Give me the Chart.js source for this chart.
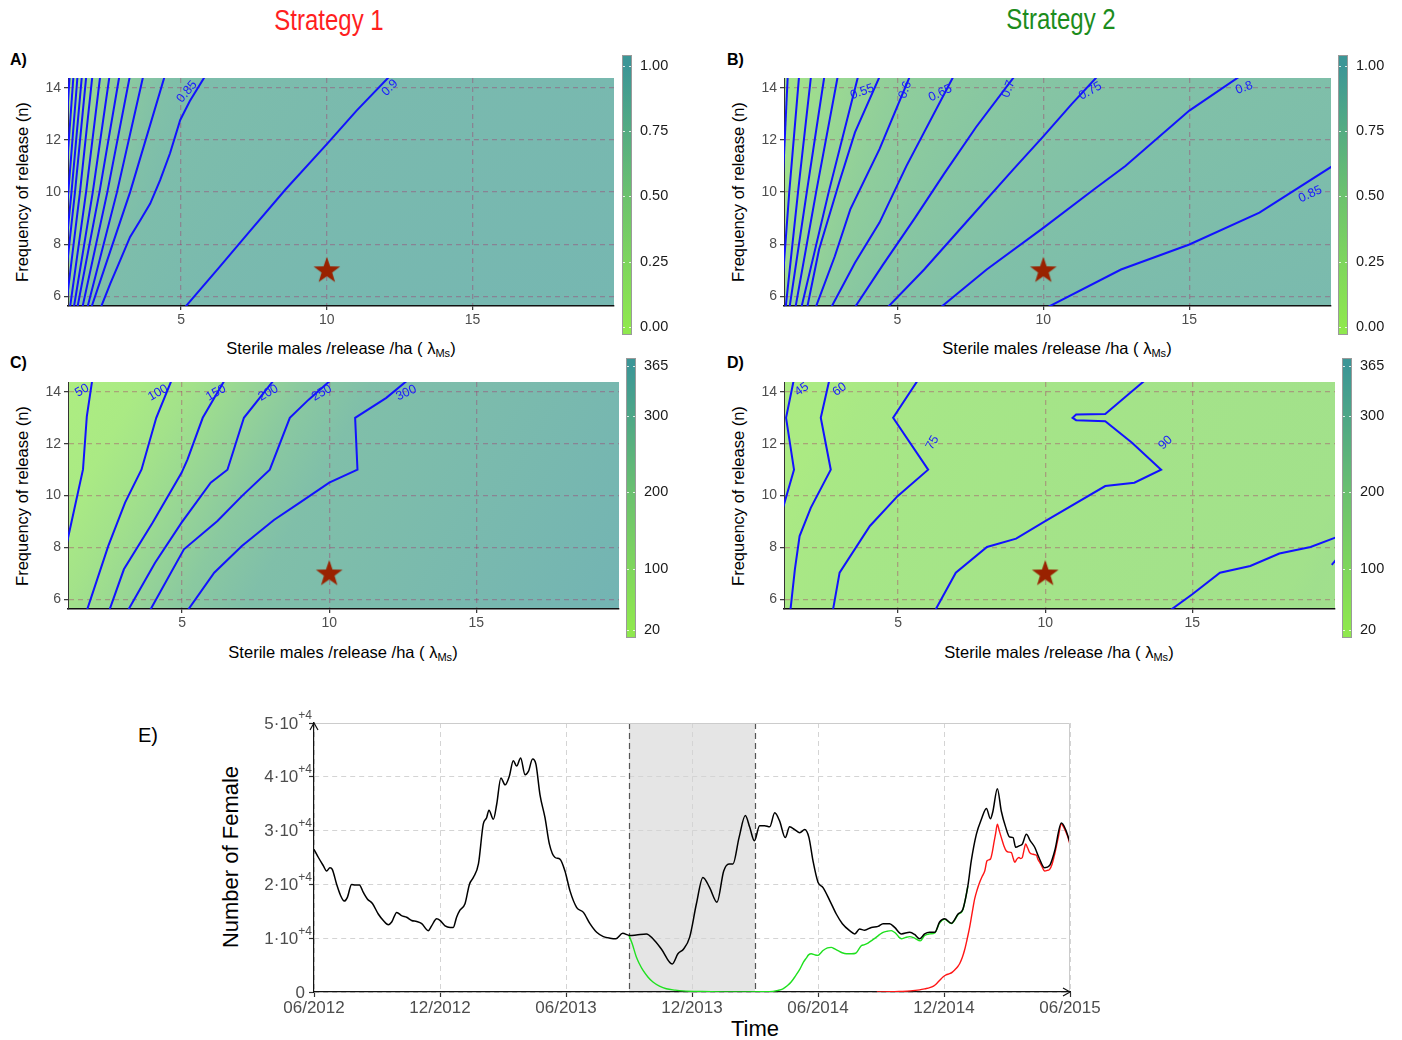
<!DOCTYPE html>
<html>
<head>
<meta charset="utf-8">
<title>SIT release strategies</title>
<script src="https://cdn.jsdelivr.net/npm/chart.js@4.4.1/dist/chart.umd.min.js"></script>
<style>
  html, body { margin: 0; padding: 0; background: #fff; }
  #fig { position: relative; width: 1402px; height: 1040px; overflow: hidden; font-family: "Liberation Sans", Arial, sans-serif; }
  #fig canvas { position: absolute; }
  .lbl { position: absolute; white-space: nowrap; color: #000; line-height: 1; }
  .c { transform: translate(-50%, -50%); }
  .rot { transform: translate(-50%, -50%) rotate(-90deg); }
  .title { font-size: 30px; transform: translate(-50%, 0) scaleX(0.8); }
  .tag { font-size: 16px; font-weight: bold; }
  .axt { font-size: 16.5px; }
  .axt sub { font-size: 11px; vertical-align: -3px; }
  .big { font-size: 22px; }
</style>
</head>
<body>
<div id="fig">
  <div class="lbl title" style="left:329px; top:5px; color:#ff1f1f;">Strategy 1</div>
  <div class="lbl title" style="left:1061px; top:4px; color:#1c8c1c;">Strategy 2</div>

  <div class="lbl tag" style="left:10px; top:52px;">A)</div>
  <div class="lbl tag" style="left:727px; top:52px;">B)</div>
  <div class="lbl tag" style="left:10px; top:355px;">C)</div>
  <div class="lbl tag" style="left:727px; top:355px;">D)</div>

  <div class="lbl axt rot" style="left:22px; top:192px;">Frequency of release (n)</div>
  <div class="lbl axt rot" style="left:738px; top:192px;">Frequency of release (n)</div>
  <div class="lbl axt rot" style="left:22px; top:496px;">Frequency of release (n)</div>
  <div class="lbl axt rot" style="left:738px; top:496px;">Frequency of release (n)</div>

  <div class="lbl axt c" style="left:341px; top:349px;">Sterile males /release /ha ( λ<sub>Ms</sub>)</div>
  <div class="lbl axt c" style="left:1057px; top:349px;">Sterile males /release /ha ( λ<sub>Ms</sub>)</div>
  <div class="lbl axt c" style="left:343px; top:653px;">Sterile males /release /ha ( λ<sub>Ms</sub>)</div>
  <div class="lbl axt c" style="left:1059px; top:653px;">Sterile males /release /ha ( λ<sub>Ms</sub>)</div>

  <div class="lbl big" style="left:138px; top:725px; font-size:20px;">E)</div>
  <div class="lbl big rot" style="left:231px; top:857px;">Number of Female</div>
  <div class="lbl big c" style="left:755px; top:1029px;">Time</div>

  <canvas id="pA" width="620" height="270" style="left:0px; top:70px;"></canvas>
  <canvas id="pB" width="621" height="270" style="left:716px; top:70px;"></canvas>
  <canvas id="pC" width="625" height="270" style="left:0px; top:374px;"></canvas>
  <canvas id="pD" width="625" height="270" style="left:716px; top:374px;"></canvas>
  <canvas id="cbA" width="70" height="290" style="left:618px; top:50px;"></canvas>
  <canvas id="cbB" width="70" height="290" style="left:1334px; top:50px;"></canvas>
  <canvas id="cbC" width="70" height="290" style="left:622px; top:353px;"></canvas>
  <canvas id="cbD" width="70" height="290" style="left:1338px; top:353px;"></canvas>
  <canvas id="pE" width="900" height="320" style="left:230px; top:710px;"></canvas>
</div>

<script>
// ---- data: contour panels (x = sterile males/release/ha, y = releases) ----
const panelXTicks = [5, 10, 15];
const panelYTicks = [6, 8, 10, 12, 14];
const starPoint = [{x: 10, y: 7}];

// A) strategy 1, efficacy
const levelsA = [0.25, 0.3, 0.35, 0.4, 0.45, 0.5, 0.55, 0.6, 0.65, 0.7, 0.75, 0.8, 0.85, 0.9];
const contoursA = [
  [[0.62, 5.5], [0.92, 10], [1.18, 14.5]],
  [[0.69, 5.5], [1.02, 10], [1.31, 14.5]],
  [[0.76, 5.5], [1.13, 10], [1.45, 14.5]],
  [[0.84, 5.5], [1.24, 10], [1.60, 14.5]],
  [[0.92, 5.5], [1.36, 10], [1.75, 14.5]],
  [[1.04, 5.5], [1.53, 10], [1.96, 14.5]],
  [[1.18, 5.5], [1.74, 10], [2.23, 14.5]],
  [[1.31, 5.5], [1.97, 10], [2.55, 14.5]],
  [[1.43, 5.5], [2.20, 10], [2.89, 14.5]],
  [[1.60, 5.5], [2.47, 10], [3.25, 14.5]],
  [[1.77, 5.5], [2.80, 10], [3.71, 14.5]],
  [[1.90, 5.5], [3.25, 10], [4.45, 14.5]],
  [[2.22, 5.5], [2.57, 6.49], [2.91, 7.38], [3.25, 8.28], [3.6, 8.92], [3.94, 9.56], [4.28, 10.46], [4.62, 11.49], [4.97, 12.77], [5.3, 13.5], [5.85, 14.5]],
  [[5.07, 5.5], [6.3, 7.1], [7.36, 8.5], [8.58, 10.1], [10.0, 11.84], [11.02, 13.13], [12.2, 14.5]]
];
const labelsA = [[0.85, 5.2, 13.85], [0.9, 12.16, 14.0]];
const cornerValuesA = [0.22, 0.95];

// B) strategy 2, efficacy
const levelsB = [0.25, 0.3, 0.35, 0.4, 0.45, 0.5, 0.55, 0.6, 0.65, 0.7, 0.75, 0.8, 0.85];
const contoursB = [
  [[0.9, 5.5], [1.06, 10], [1.25, 14.5]],
  [[1.0, 5.5], [1.3, 10], [1.64, 14.5]],
  [[1.17, 5.5], [1.6, 10], [2.05, 14.5]],
  [[1.3, 5.5], [1.9, 10], [2.51, 14.5]],
  [[1.5, 5.5], [2.22, 10], [2.97, 14.5]],
  [[1.7, 5.5], [2.65, 10], [3.67, 14.5]],
  [[1.9, 5.5], [2.32, 7.8], [3.01, 10.37], [3.55, 12.29], [4.42, 14.5]],
  [[2.18, 5.5], [2.86, 7.54], [3.39, 9.34], [4.39, 11.65], [5.45, 14.5]],
  [[2.7, 5.5], [3.55, 7.29], [4.39, 8.83], [5.31, 11.0], [6.95, 14.5]],
  [[3.5, 5.5], [4.5, 7.2], [5.6, 9.0], [6.6, 10.7], [7.7, 12.5], [9.05, 14.5]],
  [[4.6, 5.5], [5.92, 7.03], [7.45, 8.96], [8.98, 10.88], [10.0, 12.14], [10.97, 13.38], [11.9, 14.5]],
  [[6.4, 5.5], [8.06, 7.03], [10.0, 8.63], [11.74, 10.11], [12.81, 11.0], [15.0, 13.13], [16.8, 14.5]],
  [[10.0, 5.5], [12.66, 7.03], [15.0, 7.99], [17.4, 9.21], [19.9, 11.0]]
];
const labelsB = [[0.55, 3.8, 13.85], [0.6, 5.27, 13.92], [0.65, 6.47, 13.8], [0.7, 8.8, 13.96], [0.75, 11.61, 13.88], [0.8, 16.88, 14.0], [0.85, 19.14, 9.92]];
const cornerValuesB = [0.2, 0.9];

// C) strategy 1, days of protection
const levelsC = [50, 100, 150, 200, 250, 300];
const contoursC = [
  [[1.05, 8.0], [1.17, 8.63], [1.63, 11.01], [1.76, 13.06], [1.95, 14.5]],
  [[1.74, 5.5], [2.49, 8.06], [3.06, 9.73], [3.62, 11.01], [4.12, 13.0], [4.66, 14.5]],
  [[2.5, 5.5], [3.02, 7.16], [4.0, 8.96], [4.98, 10.88], [5.18, 11.39], [5.7, 13.0], [6.47, 14.5]],
  [[3.12, 5.5], [4.08, 7.41], [4.98, 8.96], [5.97, 10.5], [6.54, 11.0], [7.1, 13.0], [8.15, 14.5]],
  [[3.87, 5.5], [5.06, 7.93], [6.2, 9.02], [7.03, 9.98], [7.98, 11.0], [8.66, 13.0], [9.3, 13.7], [10.1, 14.5]],
  [[5.14, 5.5], [6.09, 7.03], [7.03, 8.06], [8.12, 9.06], [9.0, 9.73], [10.0, 10.5], [10.96, 11.0], [10.88, 13.0], [11.94, 13.77], [12.72, 14.5]]
];
const labelsC = [[50, 1.6, 14.05], [100, 4.18, 13.96], [150, 6.15, 13.96], [200, 7.93, 13.96], [250, 9.75, 13.96], [300, 12.62, 13.96]];
const cornerValuesC = [30, 362];

// D) strategy 2, days of protection
const levelsD = [45, 60, 75, 90, 105, 120];
const contoursD = [
  [[1.46, 14.5], [1.19, 13.0], [1.46, 11.0], [1.13, 9.7], [1.05, 9.4]],
  [[2.67, 14.5], [2.37, 13.0], [2.71, 11.0], [2.03, 9.53], [1.65, 8.44], [1.49, 7.16], [1.33, 5.5]],
  [[5.7, 14.5], [4.83, 13.0], [6.02, 11.0], [4.98, 9.98], [4.04, 8.83], [3.01, 7.03], [2.77, 5.5]],
  [[13.45, 14.5], [12.88, 13.96], [12.04, 13.15], [11.05, 13.13], [10.93, 13.0], [11.05, 12.91], [12.04, 12.87], [12.95, 12.04], [13.94, 11.0], [13.03, 10.5], [12.04, 10.37], [10.0, 9.02], [9.01, 8.34], [8.02, 8.02], [6.96, 7.03], [6.22, 5.5]],
  [[14.15, 5.5], [15.0, 6.2], [15.94, 7.03], [16.97, 7.29], [17.96, 7.77], [19.02, 8.02], [19.9, 8.4]],
  [[19.74, 7.33], [19.9, 7.55]]
];
const labelsD = [[45, 1.72, 14.09], [60, 3.01, 14.09], [75, 6.17, 12.04], [90, 14.09, 12.04]];
const cornerValuesD = [40, 110];

const colorbarTicksAB = [0, 0.25, 0.5, 0.75, 1];
const colorbarTicksCD = [20, 100, 200, 300, 365];

// ---- data: panel E (months since 06/2012, females in units of 10^4) ----
const timeTicks = [0, 6, 12, 18, 24, 30, 36];
const timeTickLabels = ['06/2012', '12/2012', '06/2013', '12/2013', '06/2014', '12/2014', '06/2015'];
const femaleTicks = [0, 1, 2, 3, 4, 5];
// base text and superscript of each tick label
const femaleTickLabels = [['0', ''], ['1\u00B710', '+4'], ['2\u00B710', '+4'], ['3\u00B710', '+4'], ['4\u00B710', '+4'], ['5\u00B710', '+4']];
const releaseWindow = [15, 21];

const femalesNoRelease = [
  [0, 2.65], [0.21, 2.5], [0.44, 2.35], [0.6, 2.25], [0.76, 2.31], [0.87, 2.28], [1.08, 2.0], [1.27, 1.79],
  [1.44, 1.69], [1.59, 1.76], [1.79, 2.0], [1.95, 1.99], [2.16, 1.99], [2.35, 1.85], [2.54, 1.73], [2.79, 1.64],
  [3.06, 1.45], [3.3, 1.33], [3.54, 1.25], [3.7, 1.3], [3.94, 1.48], [4.17, 1.42], [4.41, 1.39], [4.65, 1.33],
  [4.89, 1.31], [5.13, 1.27], [5.44, 1.14], [5.6, 1.23], [5.84, 1.36], [6.0, 1.33], [6.24, 1.23], [6.48, 1.2],
  [6.63, 1.2], [6.79, 1.39], [6.95, 1.52], [7.19, 1.64], [7.4, 2.0], [7.59, 2.13], [7.83, 2.38], [8.06, 3.12],
  [8.22, 3.24], [8.33, 3.38], [8.54, 3.21], [8.7, 3.49], [8.9, 3.98], [9.1, 3.85], [9.3, 4.01], [9.49, 4.3],
  [9.65, 4.2], [9.84, 4.35], [10.05, 4.04], [10.21, 4.1], [10.41, 4.33], [10.57, 4.23], [10.76, 3.67], [11.0, 3.24],
  [11.21, 2.75], [11.48, 2.5], [11.71, 2.47], [11.95, 2.25], [12.19, 1.88], [12.51, 1.57], [12.83, 1.48], [13.14, 1.27],
  [13.46, 1.11], [13.78, 1.03], [14.1, 1.0], [14.38, 0.99], [14.7, 1.09], [15.03, 1.05], [15.35, 1.06], [15.83, 1.08],
  [16.14, 0.99], [16.54, 0.8], [17.06, 0.52], [17.33, 0.71], [17.6, 0.8], [17.89, 1.02], [18.21, 1.64], [18.52, 2.13],
  [18.84, 1.94], [19.19, 1.67], [19.51, 2.25], [19.76, 2.38], [19.95, 2.38], [20.24, 2.87], [20.54, 3.28], [20.75, 3.06],
  [20.97, 2.81], [21.22, 3.09], [21.46, 3.09], [21.7, 3.07], [21.94, 3.33], [22.17, 3.18], [22.44, 2.87], [22.65, 3.07],
  [22.89, 3.02], [23.13, 2.96], [23.37, 3.02], [23.57, 2.87], [23.76, 2.44], [24.0, 2.04], [24.24, 1.94], [24.56, 1.7],
  [24.87, 1.45], [25.16, 1.27], [25.51, 1.14], [25.75, 1.08], [25.98, 1.17], [26.22, 1.15], [26.54, 1.2], [26.86, 1.22],
  [27.1, 1.27], [27.41, 1.27], [27.65, 1.2], [27.97, 1.08], [28.37, 1.11], [28.6, 1.07], [28.84, 0.99], [29.08, 1.08],
  [29.32, 1.11], [29.56, 1.11], [29.79, 1.3], [30.03, 1.36], [30.35, 1.28], [30.67, 1.45], [30.9, 1.54], [31.14, 1.98],
  [31.3, 2.44], [31.54, 2.93], [31.78, 3.21], [32.02, 3.41], [32.21, 3.22], [32.33, 3.36], [32.54, 3.78], [32.73, 3.36],
  [32.94, 3.06], [33.13, 2.88], [33.29, 2.87], [33.41, 2.69], [33.6, 2.72], [33.73, 2.75], [33.92, 2.93], [34.11, 2.81],
  [34.32, 2.69], [34.52, 2.5], [34.79, 2.31], [35.03, 2.35], [35.27, 2.62], [35.59, 3.14], [35.79, 3.02], [36.0, 2.78]
];

const femalesStrategy1 = [
  [15.0, 1.05], [15.15, 0.9], [15.35, 0.65], [15.5, 0.52], [15.67, 0.4], [15.9, 0.28], [16.14, 0.185], [16.45, 0.11],
  [16.78, 0.06], [17.2, 0.035], [17.57, 0.02], [18.5, 0.008], [19.5, 0.003], [20.5, 0.002], [21.3, 0.005], [21.86, 0.012],
  [22.1, 0.03], [22.33, 0.06], [22.55, 0.12], [22.73, 0.19], [22.93, 0.3], [23.13, 0.42], [23.3, 0.55], [23.44, 0.63],
  [23.55, 0.69], [23.68, 0.71], [23.85, 0.69], [24.0, 0.68], [24.12, 0.72], [24.24, 0.77], [24.45, 0.82], [24.63, 0.83],
  [24.8, 0.8], [24.95, 0.77], [25.15, 0.73], [25.35, 0.71], [25.6, 0.71], [25.79, 0.72], [25.95, 0.8], [26.06, 0.86],
  [26.22, 0.88], [26.38, 0.91], [26.6, 0.97], [26.78, 1.02], [26.95, 1.07], [27.1, 1.11], [27.3, 1.13], [27.49, 1.14],
  [27.6, 1.12], [27.73, 1.08], [27.85, 1.02], [27.97, 0.99], [28.15, 1.01], [28.37, 1.03], [28.6, 1.0], [28.87, 0.95],
  [29.08, 1.05], [29.32, 1.08], [29.56, 1.1], [29.79, 1.28], [30.03, 1.35], [30.35, 1.27], [30.67, 1.44], [30.9, 1.53],
  [31.14, 1.97]
];

const femalesStrategy2 = [
  [26.8, 0], [27.5, 0.004], [27.89, 0.01], [28.4, 0.02], [28.84, 0.04], [29.1, 0.06], [29.32, 0.08], [29.5, 0.11],
  [29.63, 0.15], [29.8, 0.22], [29.95, 0.28], [30.1, 0.32], [30.27, 0.34], [30.4, 0.37], [30.51, 0.41], [30.65, 0.47],
  [30.75, 0.53], [30.87, 0.64], [30.98, 0.78], [31.1, 0.98], [31.22, 1.2], [31.34, 1.47], [31.46, 1.73], [31.58, 1.9],
  [31.7, 2.04], [31.82, 2.15], [31.94, 2.25], [32.05, 2.44], [32.21, 2.47], [32.3, 2.6], [32.38, 2.78], [32.46, 2.95],
  [32.54, 3.12], [32.63, 3.0], [32.73, 2.87], [32.85, 2.72], [32.97, 2.62], [33.1, 2.6], [33.21, 2.59], [33.3, 2.48],
  [33.37, 2.41], [33.47, 2.47], [33.57, 2.5], [33.65, 2.48], [33.73, 2.5], [33.8, 2.62], [33.89, 2.75], [33.98, 2.68],
  [34.08, 2.59], [34.24, 2.56], [34.4, 2.54], [34.48, 2.46], [34.56, 2.41], [34.68, 2.32], [34.79, 2.25], [34.92, 2.26],
  [35.03, 2.28], [35.15, 2.38], [35.27, 2.56], [35.43, 2.85], [35.59, 3.12], [35.69, 3.07], [35.79, 2.99], [35.9, 2.88],
  [36.0, 2.74]
];

// ---- styling helpers ----
const labelAngles = {
  pA: [-50, -45],
  pB: [-20, -70, -25, -70, -30, -20, -25],
  pC: [-30, -30, -30, -30, -30, -25],
  pD: [-35, -35, -60, -45]
};

// where each plotting area has to sit on the page (left, top, right, bottom)
const plotBoxes = {
  pA: [68, 78, 614, 306], pB: [784, 78, 1331, 306],
  pC: [68, 382, 619, 609], pD: [784, 382, 1335, 609],
  cbA: [622, 55, 632, 335], cbB: [1338, 55, 1348, 335],
  cbC: [626, 358, 636, 638], cbD: [1342, 358, 1352, 638],
  pE: [314, 723, 1070, 992]
};

// green -> teal colour scale used by the colour bars
const colormap = [[143, 232, 78], [108, 194, 110], [60, 150, 150]];
function cmapRGB(v) {
  v = Math.max(0, Math.min(1, v));
  const t = v * 2, i = Math.min(1, Math.floor(t)), f = t - i;
  const a = colormap[i], b = colormap[i + 1];
  return a.map((c, k) => c + (b[k] - c) * f);
}
function barColor(v) {
  const c = cmapRGB(v);
  return `rgb(${c.map(Math.round).join(',')})`;
}
function fieldColor(v) {
  // the panel fill is the colour scale at ~72% opacity over white
  const c = cmapRGB(v).map(x => Math.round(0.72 * x + 0.28 * 255));
  return `rgb(${c.join(',')})`;
}

function crossAt(line, y0) {
  for (let i = 0; i < line.length - 1; i++) {
    const [x1, y1] = line[i], [x2, y2] = line[i + 1];
    if ((y1 - y0) * (y2 - y0) <= 0 && y1 !== y2) {
      return x1 + (x2 - x1) * (y0 - y1) / (y2 - y1);
    }
  }
  return line[0][0];
}

function makeStar() {
  const c = document.createElement('canvas');
  c.width = 30; c.height = 30;
  const g = c.getContext('2d');
  g.beginPath();
  for (let i = 0; i < 10; i++) {
    const r = i % 2 ? 5.6 : 14;
    const a = -Math.PI / 2 + i * Math.PI / 5;
    g.lineTo(15 + r * Math.cos(a), 15.5 + r * Math.sin(a));
  }
  g.closePath();
  g.fillStyle = '#992200';
  g.fill();
  return c;
}
const starImg = makeStar();

function noAutoPadding(s) {
  s.paddingTop = 0; s.paddingBottom = 0; s.paddingLeft = 0; s.paddingRight = 0;
}

// Chart.js keeps some room for tick labels; move / grow the canvas so the plot area lands on its box
function pinChartArea(chart) {
  const box = plotBoxes[chart.canvas.id];
  for (let k = 0; k < 2; k++) {
    const c = chart.canvas;
    const left = parseFloat(c.style.left), top = parseFloat(c.style.top);
    const a = chart.chartArea;
    const dl = Math.round(left + a.left - box[0]);
    const dt = Math.round(top + a.top - box[1]);
    const dr = Math.round(box[2] - (left + a.right));
    const db = Math.round(box[3] - (top + a.bottom));
    if (!dl && !dt && !dr && !db) return;
    c.style.left = (left - dl) + 'px';
    c.style.top = (top - dt) + 'px';
    chart.resize(chart.width + dl + dr, chart.height + dt + db);
  }
}

// per panel background description (kept out of chart options)
const panelCfg = {
  pA: {mode: 'rays', levels: levelsA, lines: contoursA, labels: labelsA, corners: cornerValuesA, norm: v => v},
  pB: {mode: 'rays', levels: levelsB, lines: contoursB, labels: labelsB, corners: cornerValuesB, norm: v => v},
  pC: {mode: 'linear', dir: [0.87, 0.49], levels: levelsC, lines: contoursC, labels: labelsC, corners: cornerValuesC, norm: v => (v - 20) / 345},
  pD: {mode: 'linear', dir: [0.9, 0.44], levels: levelsD, lines: contoursD, labels: labelsD, corners: cornerValuesD, norm: v => (v - 20) / 345}
};

const fieldBgPlugin = {
  id: 'fieldBg',
  beforeDraw(chart) {
    const cfg = panelCfg[chart.canvas.id];
    const {ctx, chartArea: a, scales: {x, y}} = chart;
    let grad;
    if (cfg.mode === 'rays' && ctx.createConicGradient) {
      // contours of panels A and B are close to rays from the origin
      const cx = x.getPixelForValue(0), cy = y.getPixelForValue(0);
      grad = ctx.createConicGradient(-Math.PI / 2, cx, cy);
      const stops = cfg.lines.map((ln, i) => {
        const p = ln[0], q = ln[ln.length - 1];
        return [(p[1] / p[0] + q[1] / q[0]) / 2, cfg.levels[i]];
      });
      stops.push([y.max / x.min, cfg.corners[0]]);
      stops.push([y.min / x.max, cfg.corners[1]]);
      stops.forEach(([r, v]) => {
        const ang = Math.atan2(y.getPixelForValue(r) - cy, x.getPixelForValue(1) - cx);
        const off = Math.max(0, Math.min(1, (ang + Math.PI / 2) / (2 * Math.PI)));
        grad.addColorStop(off, fieldColor(cfg.norm(v)));
      });
    } else {
      const dir = cfg.dir || [0.8, 0.6];
      const len = (a.right - a.left) * dir[0] + (a.bottom - a.top) * dir[1];
      grad = ctx.createLinearGradient(a.left, a.top, a.left + len * dir[0], a.top + len * dir[1]);
      grad.addColorStop(0, fieldColor(cfg.norm(cfg.corners[0])));
      grad.addColorStop(1, fieldColor(cfg.norm(cfg.corners[1])));
      cfg.lines.forEach((ln, i) => {
        let yr = 10, xr = crossAt(ln, 10);
        if (!ln.some(p => p[1] >= 10) || !ln.some(p => p[1] <= 10)) { yr = 8; xr = crossAt(ln, 8); }
        const px = x.getPixelForValue(xr), py = y.getPixelForValue(yr);
        const t = ((px - a.left) * dir[0] + (py - a.top) * dir[1]) / len;
        if (t > 0 && t < 1) grad.addColorStop(t, fieldColor(cfg.norm(cfg.levels[i])));
      });
    }
    ctx.save();
    ctx.fillStyle = grad;
    ctx.fillRect(a.left, a.top, a.right - a.left, a.bottom - a.top);
    ctx.restore();
  }
};

const contourTextPlugin = {
  id: 'contourText',
  afterDatasetsDraw(chart) {
    const id = chart.canvas.id;
    const cfg = panelCfg[id];
    const {ctx, chartArea: a, scales: {x, y}} = chart;
    ctx.save();
    ctx.beginPath();
    ctx.rect(a.left, a.top, a.right - a.left, a.bottom - a.top);
    ctx.clip();
    ctx.fillStyle = '#1a1aff';
    ctx.font = "12.5px 'Liberation Sans', Arial, sans-serif";
    ctx.textAlign = 'center';
    ctx.textBaseline = 'middle';
    cfg.labels.forEach(([lv, lx, ly], i) => {
      ctx.save();
      ctx.translate(x.getPixelForValue(lx), y.getPixelForValue(ly));
      ctx.rotate((labelAngles[id][i] || 0) * Math.PI / 180);
      ctx.fillText(String(lv), 0, 0);
      ctx.restore();
    });
    ctx.restore();
  }
};

const gridPanel = {color: 'rgba(165,40,100,0.36)', lineWidth: 1.3, drawTicks: true, tickLength: 4, tickColor: '#333', tickWidth: 1.2};
const borderPanel = {display: true, color: '#111', width: 1.5, dash: [5, 4]};

function panelChart(id, xAxisHeight) {
  const cfg = panelCfg[id];
  const datasets = [{data: starPoint, pointStyle: starImg, pointRadius: 14, order: 0}];
  cfg.lines.forEach(line => {
    datasets.push({
      data: line.map(p => ({x: p[0], y: p[1]})),
      showLine: true, borderColor: '#1212ff', borderWidth: 2,
      pointRadius: 0, tension: 0, order: 1
    });
  });
  return new Chart(document.getElementById(id), {
    type: 'scatter',
    data: {datasets},
    options: {
      responsive: false, maintainAspectRatio: false, animation: false, events: [],
      layout: {padding: {left: 0, right: 6, top: 8, bottom: 0}},
      plugins: {legend: {display: false}, tooltip: {enabled: false}},
      scales: {
        x: {
          type: 'linear', min: 1.12, max: 19.85,
          afterBuildTicks: s => { s.ticks = panelXTicks.map(v => ({value: v})); },
          afterFit: s => { s.height = xAxisHeight; noAutoPadding(s); },
          grid: gridPanel, border: borderPanel,
          ticks: {color: '#4d4d4d', font: {size: 14}, padding: 2, autoSkip: false, maxRotation: 0}
        },
        y: {
          type: 'linear', min: 5.63, max: 14.38,
          afterBuildTicks: s => { s.ticks = panelYTicks.map(v => ({value: v})); },
          afterFit: s => { s.width = 68; noAutoPadding(s); },
          grid: gridPanel, border: Object.assign({}, borderPanel, {width: 1, color: '#333'}),
          ticks: {color: '#4d4d4d', font: {size: 14}, padding: 3, autoSkip: false}
        }
      }
    },
    plugins: [fieldBgPlugin, contourTextPlugin]
  });
}

const colorbarPlugin = {
  id: 'colorbarFill',
  beforeDraw(chart) {
    const {ctx, chartArea: a, scales: {y}} = chart;
    const ticks = y.ticks.map(t => t.value);
    const lo = ticks[0], hi = ticks[ticks.length - 1];
    const g = ctx.createLinearGradient(0, y.getPixelForValue(lo), 0, y.getPixelForValue(hi));
    g.addColorStop(0, barColor(0));
    g.addColorStop(0.5, barColor(0.5));
    g.addColorStop(1, barColor(1));
    ctx.save();
    ctx.fillStyle = g;
    ctx.fillRect(a.left, a.top, a.right - a.left, a.bottom - a.top);
    ctx.strokeStyle = '#9a9a9a';
    ctx.lineWidth = 1;
    ctx.strokeRect(a.left + 0.5, a.top + 0.5, a.right - a.left - 1, a.bottom - a.top - 1);
    ctx.strokeStyle = 'rgba(255,255,255,0.8)';
    ticks.forEach(v => {
      const py = Math.round(y.getPixelForValue(v)) + 0.5;
      ctx.beginPath();
      ctx.moveTo(a.left + 1, py); ctx.lineTo(a.left + 3, py);
      ctx.moveTo(a.right - 3, py); ctx.lineTo(a.right - 1, py);
      ctx.stroke();
    });
    ctx.restore();
  }
};

function colorbarChart(id, ticks, min, max, fmt) {
  return new Chart(document.getElementById(id), {
    type: 'scatter',
    data: {datasets: []},
    options: {
      responsive: false, maintainAspectRatio: false, animation: false, events: [],
      layout: {padding: {left: 4, right: 0, top: 5, bottom: 5}},
      plugins: {legend: {display: false}, tooltip: {enabled: false}},
      scales: {
        x: {display: false, min: 0, max: 1},
        y: {
          position: 'right', min: min, max: max,
          afterBuildTicks: s => { s.ticks = ticks.map(v => ({value: v})); },
          afterFit: s => { s.width = 56; noAutoPadding(s); },
          grid: {display: false, drawTicks: false},
          border: {display: false},
          ticks: {color: '#1a1a1a', font: {size: 14.5}, padding: 8, callback: v => fmt(v)}
        }
      }
    },
    plugins: [colorbarPlugin]
  });
}

const charts = [
  panelChart('pA', 34),
  panelChart('pB', 34),
  panelChart('pC', 35),
  panelChart('pD', 35),
  colorbarChart('cbA', colorbarTicksAB, -0.031, 1.042, v => v.toFixed(2)),
  colorbarChart('cbB', colorbarTicksAB, -0.031, 1.042, v => v.toFixed(2)),
  colorbarChart('cbC', colorbarTicksCD, 9.5, 375.5, v => String(v)),
  colorbarChart('cbD', colorbarTicksCD, 9.5, 375.5, v => String(v))
];

// ---- panel E ----
const toXY = arr => arr.map(p => ({x: p[0], y: p[1]}));

const timeDecor = {
  id: 'timeDecor',
  beforeDraw(chart) {
    const {ctx, chartArea: a, scales: {x}} = chart;
    const x0 = x.getPixelForValue(releaseWindow[0]), x1 = x.getPixelForValue(releaseWindow[1]);
    ctx.save();
    ctx.fillStyle = '#e5e5e5';
    ctx.fillRect(x0, a.top, x1 - x0, a.bottom - a.top);
    ctx.restore();
  },
  beforeDatasetsDraw(chart) {
    const {ctx, chartArea: a, scales: {x}} = chart;
    ctx.save();
    ctx.strokeStyle = '#555';
    ctx.lineWidth = 1.2;
    ctx.setLineDash([6, 4]);
    releaseWindow.forEach(m => {
      const px = Math.round(x.getPixelForValue(m)) + 0.5;
      ctx.beginPath(); ctx.moveTo(px, a.top); ctx.lineTo(px, a.bottom); ctx.stroke();
    });
    ctx.restore();
  },
  afterDraw(chart) {
    const {ctx, chartArea: a, scales: {y}} = chart;
    ctx.save();
    ctx.strokeStyle = '#cccccc';
    ctx.lineWidth = 1;
    ctx.beginPath();
    ctx.moveTo(a.left, a.top + 0.5); ctx.lineTo(a.right - 0.5, a.top + 0.5); ctx.lineTo(a.right - 0.5, a.bottom - 1);
    ctx.stroke();
    ctx.strokeStyle = '#111';
    ctx.lineWidth = 1.2;
    ctx.beginPath();
    ctx.moveTo(a.left - 4, a.top + 7); ctx.lineTo(a.left, a.top); ctx.lineTo(a.left + 4, a.top + 7);
    ctx.moveTo(a.right - 7, a.bottom - 4); ctx.lineTo(a.right, a.bottom); ctx.lineTo(a.right - 7, a.bottom + 4);
    ctx.stroke();
    // y tick labels written as base + raised exponent
    ctx.fillStyle = '#4d4d4d';
    ctx.textBaseline = 'middle';
    femaleTicks.forEach((v, i) => {
      const [base, sup] = femaleTickLabels[i];
      const py = y.getPixelForValue(v);
      ctx.font = "12px 'Liberation Sans', Arial, sans-serif";
      const supW = sup ? ctx.measureText(sup).width : 0;
      const right = a.left - (sup ? 2 : 9);
      ctx.textAlign = 'left';
      if (sup) ctx.fillText(sup, right - supW, py - 7);
      ctx.font = "17px 'Liberation Sans', Arial, sans-serif";
      ctx.textAlign = 'right';
      ctx.fillText(base, right - supW, py + 1);
    });
    ctx.restore();
  }
};

const gridE = {color: '#d4d4d4', lineWidth: 1, drawTicks: true, tickLength: 5, tickColor: '#333', tickWidth: 1.2};
const borderE = {display: true, color: '#111', width: 1.2, dash: [5, 4]};

charts.push(new Chart(document.getElementById('pE'), {
  type: 'scatter',
  data: {
    datasets: [
      {data: toXY(femalesNoRelease), showLine: true, borderColor: '#000', borderWidth: 1.5, pointRadius: 0, cubicInterpolationMode: 'monotone', order: 0},
      {data: toXY(femalesStrategy2), showLine: true, borderColor: '#ff1515', borderWidth: 1.4, pointRadius: 0, cubicInterpolationMode: 'monotone', order: 1},
      {data: toXY(femalesStrategy1), showLine: true, borderColor: '#1fe01f', borderWidth: 1.4, pointRadius: 0, cubicInterpolationMode: 'monotone', order: 2}
    ]
  },
  options: {
    responsive: false, maintainAspectRatio: false, animation: false, events: [],
    layout: {padding: {left: 0, right: 60, top: 13, bottom: 0}},
    plugins: {legend: {display: false}, tooltip: {enabled: false}},
    scales: {
      x: {
        type: 'linear', min: 0, max: 36,
        afterBuildTicks: s => { s.ticks = timeTicks.map(v => ({value: v})); },
        afterFit: s => { s.height = 38; noAutoPadding(s); },
        grid: gridE, border: borderE,
        ticks: {color: '#4d4d4d', font: {size: 17}, padding: 1, autoSkip: false, maxRotation: 0,
          callback: (v, i) => timeTickLabels[i]}
      },
      y: {
        type: 'linear', min: 0, max: 5,
        afterBuildTicks: s => { s.ticks = femaleTicks.map(v => ({value: v})); },
        afterFit: s => { s.width = 84; noAutoPadding(s); },
        grid: gridE, border: borderE,
        ticks: {display: false}
      }
    }
  },
  plugins: [timeDecor]
}));

charts.forEach(pinChartArea);
</script>
</body>
</html>
